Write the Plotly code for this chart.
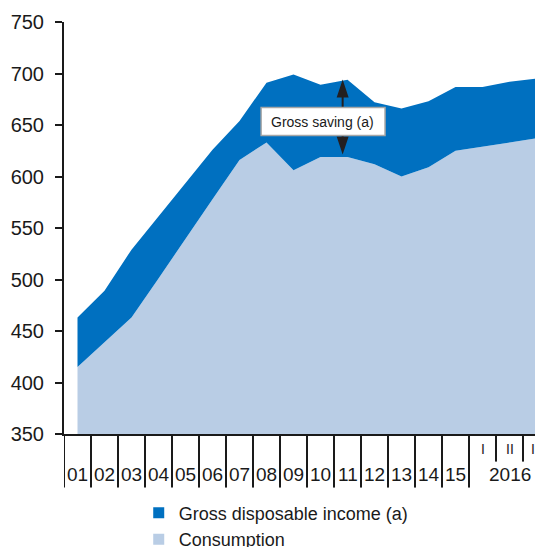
import plotly.graph_objects as go

# categories: years 2001-2015, then 2016 quarters
year_labels = ["01", "02", "03", "04", "05", "06", "07", "08", "09", "10",
               "11", "12", "13", "14", "15"]
quarter_labels = ["I", "II", "III"]
group_label = "2016"

# values (EUR bn)
gross_disposable_income = [463, 489, 529, 561, 593, 626, 654, 691, 699, 689,
                           694, 672, 666, 673, 687, 687, 692, 695]
consumption = [415, 439, 463, 501, 540, 578, 616, 633, 606, 619,
               619, 612, 600, 609, 625, 629, 633, 637]

DARK = "#0070C0"
LIGHT = "#B9CDE5"
INK = "#1A1A1A"
FONT = "Liberation Sans, Arial, sans-serif"

n = len(consumption)
xs = list(range(n))

fig = go.Figure()
fig.add_trace(go.Scatter(x=xs, y=consumption, mode="lines", line=dict(width=0),
                         fill="tozeroy", fillcolor=LIGHT, showlegend=False,
                         hoverinfo="skip"))
fig.add_trace(go.Scatter(x=xs, y=gross_disposable_income, mode="lines",
                         line=dict(width=0), fill="tonexty", fillcolor=DARK,
                         showlegend=False, hoverinfo="skip"))

# legend entries as square swatches
for name, col in [("Gross disposable income (a)", DARK), ("Consumption", LIGHT)]:
    fig.add_trace(go.Scatter(x=[None], y=[None], mode="markers", name=name,
                             marker=dict(symbol="square", size=11, color=col)))

shapes = []
annotations = []

# category boundary ticks below the axis (long for years, short for quarters)
for k in range(n):
    short = k > len(year_labels)
    shapes.append(dict(type="line", xref="x", yref="paper",
                       x0=k - 0.5, x1=k - 0.5, y0=0,
                       y1=-0.067 if short else -0.13,
                       line=dict(color=INK, width=2)))

for i, lab in enumerate(year_labels):
    annotations.append(dict(x=i, y=-0.098, xref="x", yref="paper", text=lab,
                            showarrow=False, yanchor="middle",
                            font=dict(size=19, color=INK, family=FONT)))
for j, lab in enumerate(quarter_labels):
    annotations.append(dict(x=len(year_labels) + j, y=-0.036, xref="x",
                            yref="paper", text=lab, showarrow=False,
                            yanchor="middle",
                            font=dict(size=14, color=INK, family=FONT)))
annotations.append(dict(x=len(year_labels) + 1, y=-0.098, xref="x", yref="paper",
                        text=group_label, showarrow=False, yanchor="middle",
                        font=dict(size=19, color=INK, family=FONT)))

# "Gross saving" callout with double arrow at 2011
ax_x = 9.82
shapes += [
    dict(type="line", xref="x", yref="y", x0=ax_x, x1=ax_x, y0=667, y1=680,
         line=dict(color="#231F20", width=2)),
    dict(type="line", xref="x", yref="y", x0=ax_x, x1=ax_x, y0=639.8, y1=632,
         line=dict(color="#231F20", width=2)),
    dict(type="path", xref="x", yref="y", xsizemode="pixel", ysizemode="pixel",
         xanchor=ax_x, yanchor=694.2, path="M0,0 L-6,-18 L6,-18 Z",
         fillcolor="#231F20", line=dict(width=0)),
    dict(type="path", xref="x", yref="y", xsizemode="pixel", ysizemode="pixel",
         xanchor=ax_x, yanchor=621.4, path="M0,0 L-6,18 L6,18 Z",
         fillcolor="#231F20", line=dict(width=0)),
    dict(type="rect", xref="x", yref="y", x0=6.8, x1=11.39, y0=639.8, y1=667,
         fillcolor="white", line=dict(color="#A6A6A6", width=1.5)),
]
annotations.append(dict(x=9.09, y=653.4, xref="x", yref="y",
                        text="Gross saving (a)", showarrow=False,
                        font=dict(size=14, color=INK, family=FONT)))

# page body has an 8px margin, so the figure is sized/shifted to compensate
fig.update_layout(
    width=535, height=539,
    margin=dict(l=56, r=0, t=14, b=113, autoexpand=False),
    plot_bgcolor="white", paper_bgcolor="white",
    font=dict(family=FONT, color=INK, size=19),
    shapes=shapes, annotations=annotations,
    legend=dict(x=0.156, y=-0.147, xanchor="left", yanchor="top",
                traceorder="normal",
                font=dict(size=18, color=INK, family=FONT),
                tracegroupgap=0, itemwidth=30, bgcolor="rgba(0,0,0,0)"),
    xaxis=dict(range=[-0.5, 17.24], showgrid=False, zeroline=False,
               showticklabels=False, ticks="", showline=True, automargin=False,
               linecolor=INK, linewidth=2),
    yaxis=dict(range=[350, 750], dtick=50, showgrid=False, zeroline=False,
               ticks="outside", ticklen=7, tickwidth=2, tickcolor=INK,
               showline=True, linecolor=INK, linewidth=2, automargin=False,
               ticklabelstandoff=7,
               tickfont=dict(size=20, color=INK, family=FONT)),
)

fig.write_html("out.html")
